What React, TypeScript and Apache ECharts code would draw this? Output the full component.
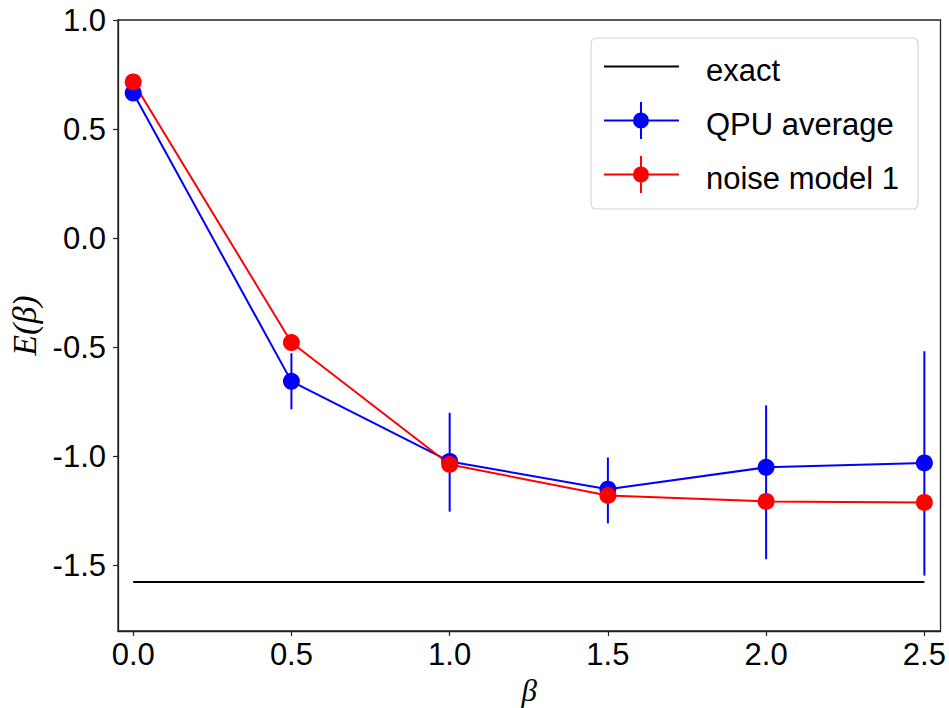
import React, { useEffect, useRef } from "react";
import * as echarts from "echarts";

const betas = [0, 0.5, 1.0, 1.5, 2.0, 2.5];
const qpuAverage = [0.665, -0.656, -1.023, -1.150, -1.050, -1.030];
const qpuErrPlus = [0.0, 0.129, 0.223, 0.145, 0.284, 0.512];
const qpuErrMinus = [0.0, 0.128, 0.230, 0.157, 0.421, 0.516];
const noiseModel1 = [0.716, -0.478, -1.037, -1.179, -1.206, -1.211];
const noiseErrPlus = [0, 0, 0, 0, 0, 0];
const noiseErrMinus = [0, 0, 0, 0, 0, 0];
const exactValue = -1.575;
const exactRange = [0, 2.5];
const xTicks = [0, 0.5, 1.0, 1.5, 2.0, 2.5];
const yTicks = [-1.5, -1.0, -0.5, 0.0, 0.5, 1.0];

const FONT = "Liberation Sans";

const iconErr =
  "path://M0,17.5 H75 V19.5 H0 Z M36,0 H38 V37 H36 Z M29,18.5 A8,8 0 1,1 45,18.5 A8,8 0 1,1 29,18.5 Z M0,45 h0.01 v0.01 h-0.01 Z";
const iconLine =
  "path://M0,17.5 H75 V19.5 H0 Z M0,0 h0.01 v0.01 h-0.01 Z M0,45 h0.01 v0.01 h-0.01 Z";

function errorSeries(name: string, ys: number[], plus: number[], minus: number[], color: string) {
  return {
    type: "custom",
    name: name + "_err",
    silent: true,
    data: betas.map((b, i) => [b, ys[i], plus[i], minus[i]]),
    renderItem: (params: any, api: any) => {
      const x = api.value(0);
      const y = api.value(1);
      const p1 = api.coord([x, y + api.value(2)]);
      const p2 = api.coord([x, y - api.value(3)]);
      return {
        type: "line",
        shape: { x1: p1[0], y1: p1[1], x2: p2[0], y2: p2[1] },
        style: { stroke: color, lineWidth: 2 },
      };
    },
  };
}

export default function App() {
  const ref = useRef<HTMLDivElement>(null);
  useEffect(() => {
    if (!ref.current) return;
    const chart = echarts.init(ref.current, undefined, { renderer: "svg" });
    chart.setOption({
      animation: false,
      backgroundColor: "#ffffff",
      grid: {
        left: 118,
        right: 8.5,
        top: 20,
        bottom: 77,
        show: true,
        borderColor: "#222",
        borderWidth: 1.3,
        backgroundColor: "transparent",
        containLabel: false,
        outerBoundsMode: "none",
      },
      legend: {
        orient: "vertical",
        left: 591,
        top: 38,
        width: 330,
        padding: [10, 19, 8, 13],
        backgroundColor: "#ffffff",
        borderColor: "#d6d6d6",
        borderWidth: 1.2,
        borderRadius: 5,
        itemWidth: 75,
        itemHeight: 45,
        itemGap: 9,
        itemStyle: { borderWidth: 0 },
        textStyle: {
          fontFamily: FONT,
          fontSize: 31,
          color: "#000",
          padding: [0, 0, 0, 22],
        },
        data: [
          { name: "exact", icon: iconLine },
          { name: "QPU average", icon: iconErr },
          { name: "noise model 1", icon: iconErr },
        ],
      },
      xAxis: {
        type: "value",
        min: -0.048,
        max: 2.551,
        name: "β",
        nameLocation: "middle",
        nameGap: 41,
        nameTextStyle: {
          fontFamily: "Liberation Serif",
          fontStyle: "italic",
          fontSize: 31,
          color: "#000",
        },
        axisLine: { show: true, onZero: false, lineStyle: { color: "#222", width: 1.3 } },
        axisTick: {
          show: true,
          length: 5,
          customValues: xTicks,
          lineStyle: { color: "#222", width: 1.2 },
        },
        axisLabel: {
          customValues: xTicks,
          formatter: (v: number) => v.toFixed(1),
          fontFamily: FONT,
          fontSize: 31,
          color: "#000",
          margin: 8,
        },
        splitLine: { show: false },
      },
      yAxis: {
        type: "value",
        min: -1.8,
        max: 1.0,
        name: "E(β)",
        nameLocation: "middle",
        nameGap: 73,
        nameTextStyle: {
          fontFamily: "Liberation Serif",
          fontStyle: "italic",
          fontSize: 34,
          color: "#000",
        },
        axisLine: { show: true, onZero: false, lineStyle: { color: "#222", width: 1.3 } },
        axisTick: {
          show: true,
          length: 5,
          customValues: yTicks,
          lineStyle: { color: "#222", width: 1.2 },
        },
        axisLabel: {
          customValues: yTicks,
          formatter: (v: number) => v.toFixed(1),
          fontFamily: FONT,
          fontSize: 31,
          color: "#000",
          margin: 12,
        },
        splitLine: { show: false },
      },
      series: [
        {
          type: "line",
          name: "exact",
          data: exactRange.map((x) => [x, exactValue]),
          showSymbol: false,
          symbol: "none",
          lineStyle: { color: "#000000", width: 2 },
          itemStyle: { color: "#000000" },
        },
        errorSeries("QPU average", qpuAverage, qpuErrPlus, qpuErrMinus, "#0000ff"),
        {
          type: "line",
          name: "QPU average",
          data: betas.map((b, i) => [b, qpuAverage[i]]),
          symbol: "circle",
          symbolSize: 17,
          lineStyle: { color: "#0000ff", width: 2 },
          itemStyle: { color: "#0000ff" },
        },
        errorSeries("noise model 1", noiseModel1, noiseErrPlus, noiseErrMinus, "#ff0000"),
        {
          type: "line",
          name: "noise model 1",
          data: betas.map((b, i) => [b, noiseModel1[i]]),
          symbol: "circle",
          symbolSize: 17,
          lineStyle: { color: "#ff0000", width: 2 },
          itemStyle: { color: "#ff0000" },
        },
      ],
    });
    return () => chart.dispose();
  }, []);
  return (
    <div
      ref={ref}
      style={{ position: "absolute", left: 0, top: 0, width: 949, height: 708 }}
    />
  );
}
